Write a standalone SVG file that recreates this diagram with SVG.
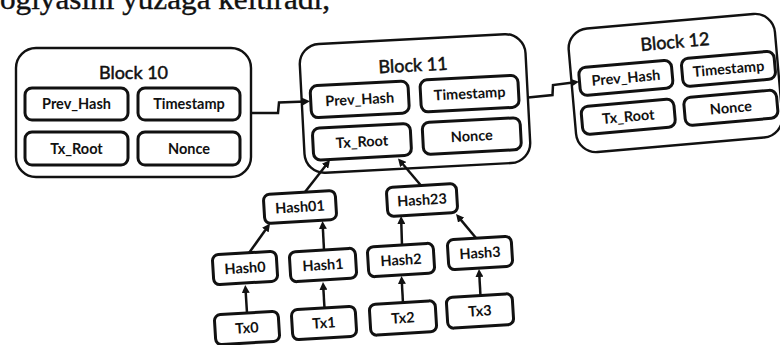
<svg xmlns="http://www.w3.org/2000/svg" width="780" height="345" viewBox="0 0 780 345">
<style>
.outer{fill:#fff;stroke:#111;stroke-width:2.4}
.box{fill:#fff;stroke:#111;stroke-width:3}
.title{font-family:Lato,"Liberation Sans",sans-serif;font-size:18px;text-anchor:middle;fill:#111;stroke:#111;stroke-width:0.5}
.lbl{font-family:Lato,"Liberation Sans",sans-serif;font-size:14.5px;font-weight:bold;text-anchor:middle;fill:#111}
.conn{fill:none;stroke:#111;stroke-width:2.5;marker-end:url(#ah)}
.page{font-family:"Liberation Serif",serif;font-size:30px;fill:#111;stroke:#111;stroke-width:0.4}
</style>
<defs>
<marker id="ah" viewBox="0 0 10 10" refX="5" refY="5" markerUnits="userSpaceOnUse" markerWidth="8" markerHeight="8" orient="auto">
<path d="M0,0 L10,5 L0,10 z" fill="#111"/>
</marker>
</defs>
<rect width="780" height="345" fill="#fff"/>
<text class="page" x="0" y="9" textLength="330" lengthAdjust="spacingAndGlyphs">ogiyasini yuzaga keltiradi,</text>

<g id="block10">
<rect class="outer" x="16" y="48" width="235" height="129" rx="20"/>
<text class="title" x="133.5" y="79">Block 10</text>
<g id="b10-prev"><rect class="box" x="25" y="88" width="103" height="32" rx="7"/><text class="lbl" x="76.5" y="109">Prev_Hash</text></g>
<g id="b10-time"><rect class="box" x="138" y="88" width="102" height="32" rx="7"/><text class="lbl" x="189" y="109">Timestamp</text></g>
<g id="b10-root"><rect class="box" x="25" y="132" width="103" height="33" rx="7"/><text class="lbl" x="76.5" y="154">Tx_Root</text></g>
<g id="b10-nonce"><rect class="box" x="138" y="132" width="102" height="33" rx="7"/><text class="lbl" x="189" y="154">Nonce</text></g>
</g>

<g id="block11" transform="translate(415,103.5) rotate(-3)">
<rect class="outer" x="-113" y="-64.5" width="226" height="129" rx="20"/>
<text class="title" x="0" y="-32">Block 11</text>
<g id="b11-prev"><rect class="box" x="-104" y="-23" width="98" height="32" rx="7"/><text class="lbl" x="-55" y="-2">Prev_Hash</text></g>
<g id="b11-time"><rect class="box" x="6" y="-23" width="98" height="32" rx="7"/><text class="lbl" x="55" y="-2">Timestamp</text></g>
<g id="b11-root"><rect class="box" x="-104" y="19.5" width="98" height="32" rx="7"/><text class="lbl" x="-55" y="40.5">Tx_Root</text></g>
<g id="b11-nonce"><rect class="box" x="6" y="19.5" width="98" height="32" rx="7"/><text class="lbl" x="55" y="40.5">Nonce</text></g>
</g>

<g id="block12" transform="translate(675.5,83) rotate(-5)">
<rect class="outer" x="-103.5" y="-62" width="207" height="124" rx="20"/>
<text class="title" x="3" y="-35">Block 12</text>
<g id="b12-prev"><rect class="box" x="-95.5" y="-23.5" width="93" height="28" rx="7"/><text class="lbl" x="-49" y="-4.5">Prev_Hash</text></g>
<g id="b12-time"><rect class="box" x="7.5" y="-23.5" width="93" height="28" rx="7"/><text class="lbl" x="54" y="-4.5">Timestamp</text></g>
<g id="b12-root"><rect class="box" x="-96.5" y="15.5" width="93" height="28" rx="7"/><text class="lbl" x="-50" y="34.5">Tx_Root</text></g>
<g id="b12-nonce"><rect class="box" x="6.5" y="15.5" width="93" height="28" rx="7"/><text class="lbl" x="53" y="34.5">Nonce</text></g>
</g>

<g id="hash01" transform="translate(300,207) rotate(-3.5)"><rect class="box" x="-36" y="-14.5" width="72" height="29" rx="6"/><text class="lbl" x="0" y="5">Hash01</text></g>
<g id="hash23" transform="translate(422,200) rotate(-3.5)"><rect class="box" x="-35" y="-14.5" width="70" height="29" rx="6"/><text class="lbl" x="0" y="5">Hash23</text></g>
<g id="hash0" transform="translate(245,268) rotate(-3.5)"><rect class="box" x="-32" y="-15" width="64" height="30" rx="6"/><text class="lbl" x="0" y="5">Hash0</text></g>
<g id="hash1" transform="translate(323,265) rotate(-3.5)"><rect class="box" x="-33" y="-15" width="66" height="30" rx="6"/><text class="lbl" x="0" y="5">Hash1</text></g>
<g id="hash2" transform="translate(401,260) rotate(-3.5)"><rect class="box" x="-33" y="-15" width="66" height="30" rx="6"/><text class="lbl" x="0" y="5">Hash2</text></g>
<g id="hash3" transform="translate(480,253) rotate(-3.5)"><rect class="box" x="-32" y="-15" width="64" height="30" rx="6"/><text class="lbl" x="0" y="5">Hash3</text></g>
<g id="tx0" transform="translate(247,328) rotate(-3.5)"><rect class="box" x="-32" y="-15" width="64" height="30" rx="6"/><text class="lbl" x="0" y="5">Tx0</text></g>
<g id="tx1" transform="translate(324,323) rotate(-3.5)"><rect class="box" x="-32" y="-15" width="64" height="30" rx="6"/><text class="lbl" x="0" y="5">Tx1</text></g>
<g id="tx2" transform="translate(403,318) rotate(-3.5)"><rect class="box" x="-33" y="-15.5" width="66" height="31" rx="6"/><text class="lbl" x="0" y="5">Tx2</text></g>
<g id="tx3" transform="translate(480,311) rotate(-3.5)"><rect class="box" x="-33" y="-15.5" width="66" height="31" rx="6"/><text class="lbl" x="0" y="5">Tx3</text></g>

<g id="connectors">
<path class="conn" d="M251,113 L278,113 L279,102.5 L306,101.5"/>
<path class="conn" d="M528,97.5 L552.5,95 L553,85 L575,82.3"/>
<path class="conn" d="M247,313 L245.5,289"/>
<path class="conn" d="M324.5,308 L323.2,286"/>
<path class="conn" d="M403,303 L401.7,280"/>
<path class="conn" d="M480.5,296 L479.2,273"/>
<path class="conn" d="M249,253 L267.7,226.8"/>
<path class="conn" d="M324,250 L322.7,225"/>
<path class="conn" d="M402,245 L401.2,220"/>
<path class="conn" d="M476,238 L458.6,217.1"/>
<path class="conn" d="M305,192 L327.5,163.2"/>
<path class="conn" d="M421,185.5 L400.6,161.5"/>
</g>
</svg>
